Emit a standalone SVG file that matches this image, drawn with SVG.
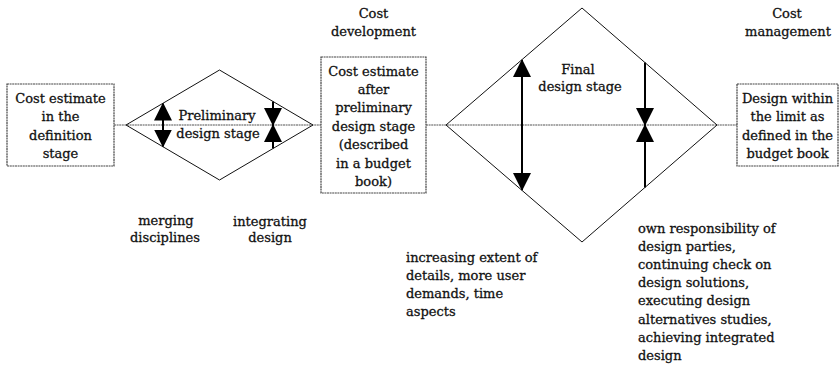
<svg xmlns="http://www.w3.org/2000/svg" width="840" height="365" viewBox="0 0 840 365">
  <style>
    text { font-family: "DejaVu Serif", "Liberation Serif", serif; font-size: 13px; fill: #111; stroke: #111; stroke-width: 0.3; }
    .c { text-anchor: middle; }
    .box { fill: #fff; stroke: #444; stroke-width: 1.2; stroke-dasharray: 2 0.6; }
    .dia { fill: none; stroke: #111; stroke-width: 1; }
    .hline { stroke: #555; stroke-width: 1.2; stroke-dasharray: 2 0.6; fill: none; }
    .arr { stroke: #000; stroke-width: 2; fill: none; }
  </style>
  <defs>
    <marker id="head" viewBox="0 0 18 18" refX="17" refY="9" markerWidth="18" markerHeight="18" markerUnits="userSpaceOnUse" orient="auto-start-reverse">
      <path d="M0,0 L18,9 L0,18 z" fill="#000"/>
    </marker>
  </defs>

  <g id="connectors">
    <path class="hline" d="M114,125 H321"/>
    <path class="hline" d="M426,125 H737"/>
    <path class="arr" d="M163,103.5 V146.5" marker-start="url(#head)" marker-end="url(#head)"/>
    <path class="arr" d="M273,101.5 V125" marker-end="url(#head)"/>
    <path class="arr" d="M273,148.5 V125" marker-end="url(#head)"/>
    <path class="arr" d="M522,60 V190" marker-start="url(#head)" marker-end="url(#head)"/>
    <path class="arr" d="M645,62.5 V125" marker-end="url(#head)"/>
    <path class="arr" d="M645,187.5 V125" marker-end="url(#head)"/>
  </g>

  <g id="definition-box">
    <rect class="box" x="7" y="84" width="107" height="82"/>
    <text class="c" x="60.5" y="102.5">Cost estimate</text>
    <text class="c" x="60.5" y="121">in the</text>
    <text class="c" x="60.5" y="139.5">definition</text>
    <text class="c" x="60.5" y="158">stage</text>
  </g>

  <g id="preliminary-stage">
    <polygon class="dia" points="126,125 219.5,70 313,125 219.5,180"/>
    <text class="c" x="217" y="120">Preliminary</text>
    <text class="c" x="218" y="137.5">design stage</text>
  </g>

  <g id="merging-label">
    <text class="c" x="166" y="225">merging</text>
    <text class="c" x="165" y="242">disciplines</text>
  </g>

  <g id="integrating-label">
    <text class="c" x="270" y="225.5">integrating</text>
    <text class="c" x="270" y="242">design</text>
  </g>

  <g id="cost-development">
    <text class="c" x="373.5" y="17.5">Cost</text>
    <text class="c" x="373.5" y="36">development</text>
  </g>

  <g id="budget-box">
    <rect class="box" x="321" y="57" width="105" height="136"/>
    <text class="c" x="373.5" y="75.5">Cost estimate</text>
    <text class="c" x="373.5" y="93.5">after</text>
    <text class="c" x="373.5" y="112">preliminary</text>
    <text class="c" x="373.5" y="130.5">design stage</text>
    <text class="c" x="373.5" y="149">(described</text>
    <text class="c" x="373.5" y="167.5">in a budget</text>
    <text class="c" x="373.5" y="186">book)</text>
  </g>

  <g id="final-stage">
    <polygon class="dia" points="446,125 582,8 717,125 582,242"/>
    <text class="c" x="578" y="73.5">Final</text>
    <text class="c" x="580" y="91">design stage</text>
  </g>

  <g id="increasing-label">
    <text x="406" y="261.5">increasing extent of</text>
    <text x="406" y="279.5">details, more user</text>
    <text x="406" y="297.5">demands, time</text>
    <text x="406" y="316">aspects</text>
  </g>

  <g id="responsibility-label">
    <text x="638" y="232.5">own responsibility of</text>
    <text x="638" y="250.5">design parties,</text>
    <text x="638" y="268.5">continuing check on</text>
    <text x="638" y="287">design solutions,</text>
    <text x="638" y="305">executing design</text>
    <text x="638" y="323.5">alternatives studies,</text>
    <text x="638" y="342">achieving integrated</text>
    <text x="638" y="360">design</text>
  </g>

  <g id="cost-management">
    <text class="c" x="787" y="17.5">Cost</text>
    <text class="c" x="788" y="36">management</text>
  </g>

  <g id="limit-box">
    <rect class="box" x="737" y="84" width="101" height="82"/>
    <text class="c" x="787.5" y="102.5">Design within</text>
    <text class="c" x="787.5" y="121">the limit as</text>
    <text class="c" x="787.5" y="139.5">defined in the</text>
    <text class="c" x="787.5" y="158">budget book</text>
  </g>
</svg>
